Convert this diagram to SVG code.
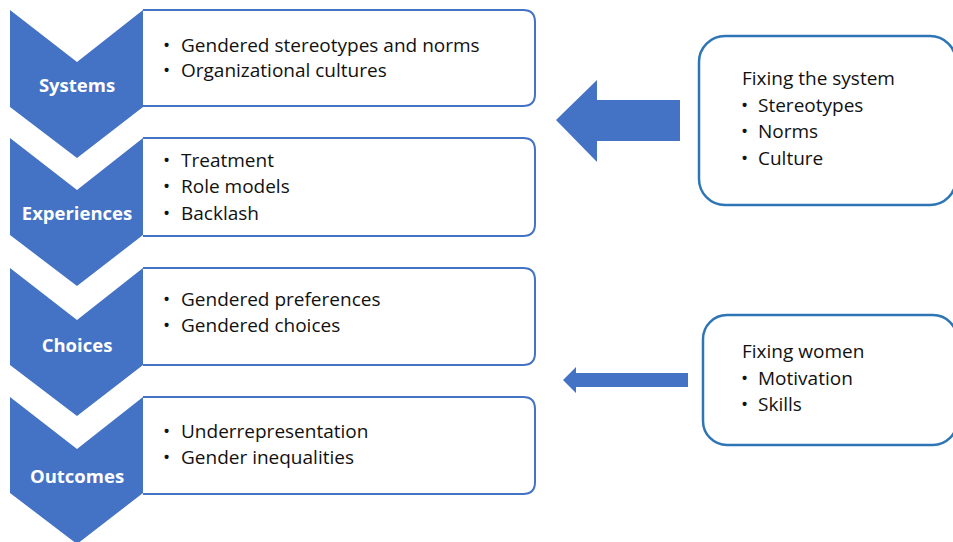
<svg xmlns="http://www.w3.org/2000/svg" width="953" height="542" viewBox="0 0 953 542">
<style>
.chev{fill:#4472C4;}
.box{fill:#fff;stroke:#4472C4;stroke-width:2;}
.rbox{fill:#fff;stroke:#2E75B6;stroke-width:2.5;}
.arrow{fill:#4472C4;}
.lab{font-family:"Open Sans","Noto Sans",sans-serif;font-weight:bold;font-size:18.5px;fill:#fff;text-anchor:middle;}
.txt{font-family:"Open Sans","Noto Sans",sans-serif;font-size:19px;fill:#111;}
</style>
<rect width="953" height="542" fill="#fff"/>
<g id="systems">
<polygon class="chev" points="10,10 77,62 143,10 143,107 77,158 10,107"/>
<path class="box" d="M143,10 H523 Q535,10 535,22 V94 Q535,106 523,106 H143"/>
<text class="lab" x="77" y="92">Systems</text>
<text class="txt" x="163" y="52">•</text><text class="txt" x="181" y="52">Gendered stereotypes and norms</text>
<text class="txt" x="163" y="77">•</text><text class="txt" x="181" y="77">Organizational cultures</text>
</g>
<g id="experiences">
<polygon class="chev" points="10,138 77,190 143,138 143,235 77,286 10,235"/>
<path class="box" d="M143,138 H523 Q535,138 535,150 V224 Q535,236 523,236 H143"/>
<text class="lab" x="77" y="220">Experiences</text>
<text class="txt" x="163" y="167">•</text><text class="txt" x="181" y="167">Treatment</text>
<text class="txt" x="163" y="193">•</text><text class="txt" x="181" y="193">Role models</text>
<text class="txt" x="163" y="220">•</text><text class="txt" x="181" y="220">Backlash</text>
</g>
<g id="choices">
<polygon class="chev" points="10,268 77,320 143,268 143,365 77,416 10,365"/>
<path class="box" d="M143,268 H523 Q535,268 535,280 V353 Q535,365 523,365 H143"/>
<text class="lab" x="77" y="352">Choices</text>
<text class="txt" x="163" y="306">•</text><text class="txt" x="181" y="306">Gendered preferences</text>
<text class="txt" x="163" y="332">•</text><text class="txt" x="181" y="332">Gendered choices</text>
</g>
<g id="outcomes">
<polygon class="chev" points="10,397 77,449 143,397 143,493 77,544 10,493"/>
<path class="box" d="M143,397 H523 Q535,397 535,409 V482 Q535,494 523,494 H143"/>
<text class="lab" x="77" y="483">Outcomes</text>
<text class="txt" x="163" y="438">•</text><text class="txt" x="181" y="438">Underrepresentation</text>
<text class="txt" x="163" y="464">•</text><text class="txt" x="181" y="464">Gender inequalities</text>
</g>
<g id="fixing-system">
<rect class="rbox" x="699" y="36" width="257" height="169" rx="26"/>
<text class="txt" x="742" y="85">Fixing the system</text>
<text class="txt" x="741" y="112">•</text><text class="txt" x="758" y="112">Stereotypes</text>
<text class="txt" x="741" y="138">•</text><text class="txt" x="758" y="138">Norms</text>
<text class="txt" x="741" y="165">•</text><text class="txt" x="758" y="165">Culture</text>
</g>
<g id="fixing-women">
<rect class="rbox" x="703" y="315" width="254" height="130" rx="24"/>
<text class="txt" x="742" y="358">Fixing women</text>
<text class="txt" x="741" y="385">•</text><text class="txt" x="758" y="385">Motivation</text>
<text class="txt" x="741" y="411">•</text><text class="txt" x="758" y="411">Skills</text>
</g>
<g id="connectors">
<polygon class="arrow" points="556,120 597,80 597,100 680,100 680,141 597,141 597,162"/>
<polygon class="arrow" points="563,380 576,367 576,373 688,373 688,387 576,387 576,393"/>
</g>
</svg>
